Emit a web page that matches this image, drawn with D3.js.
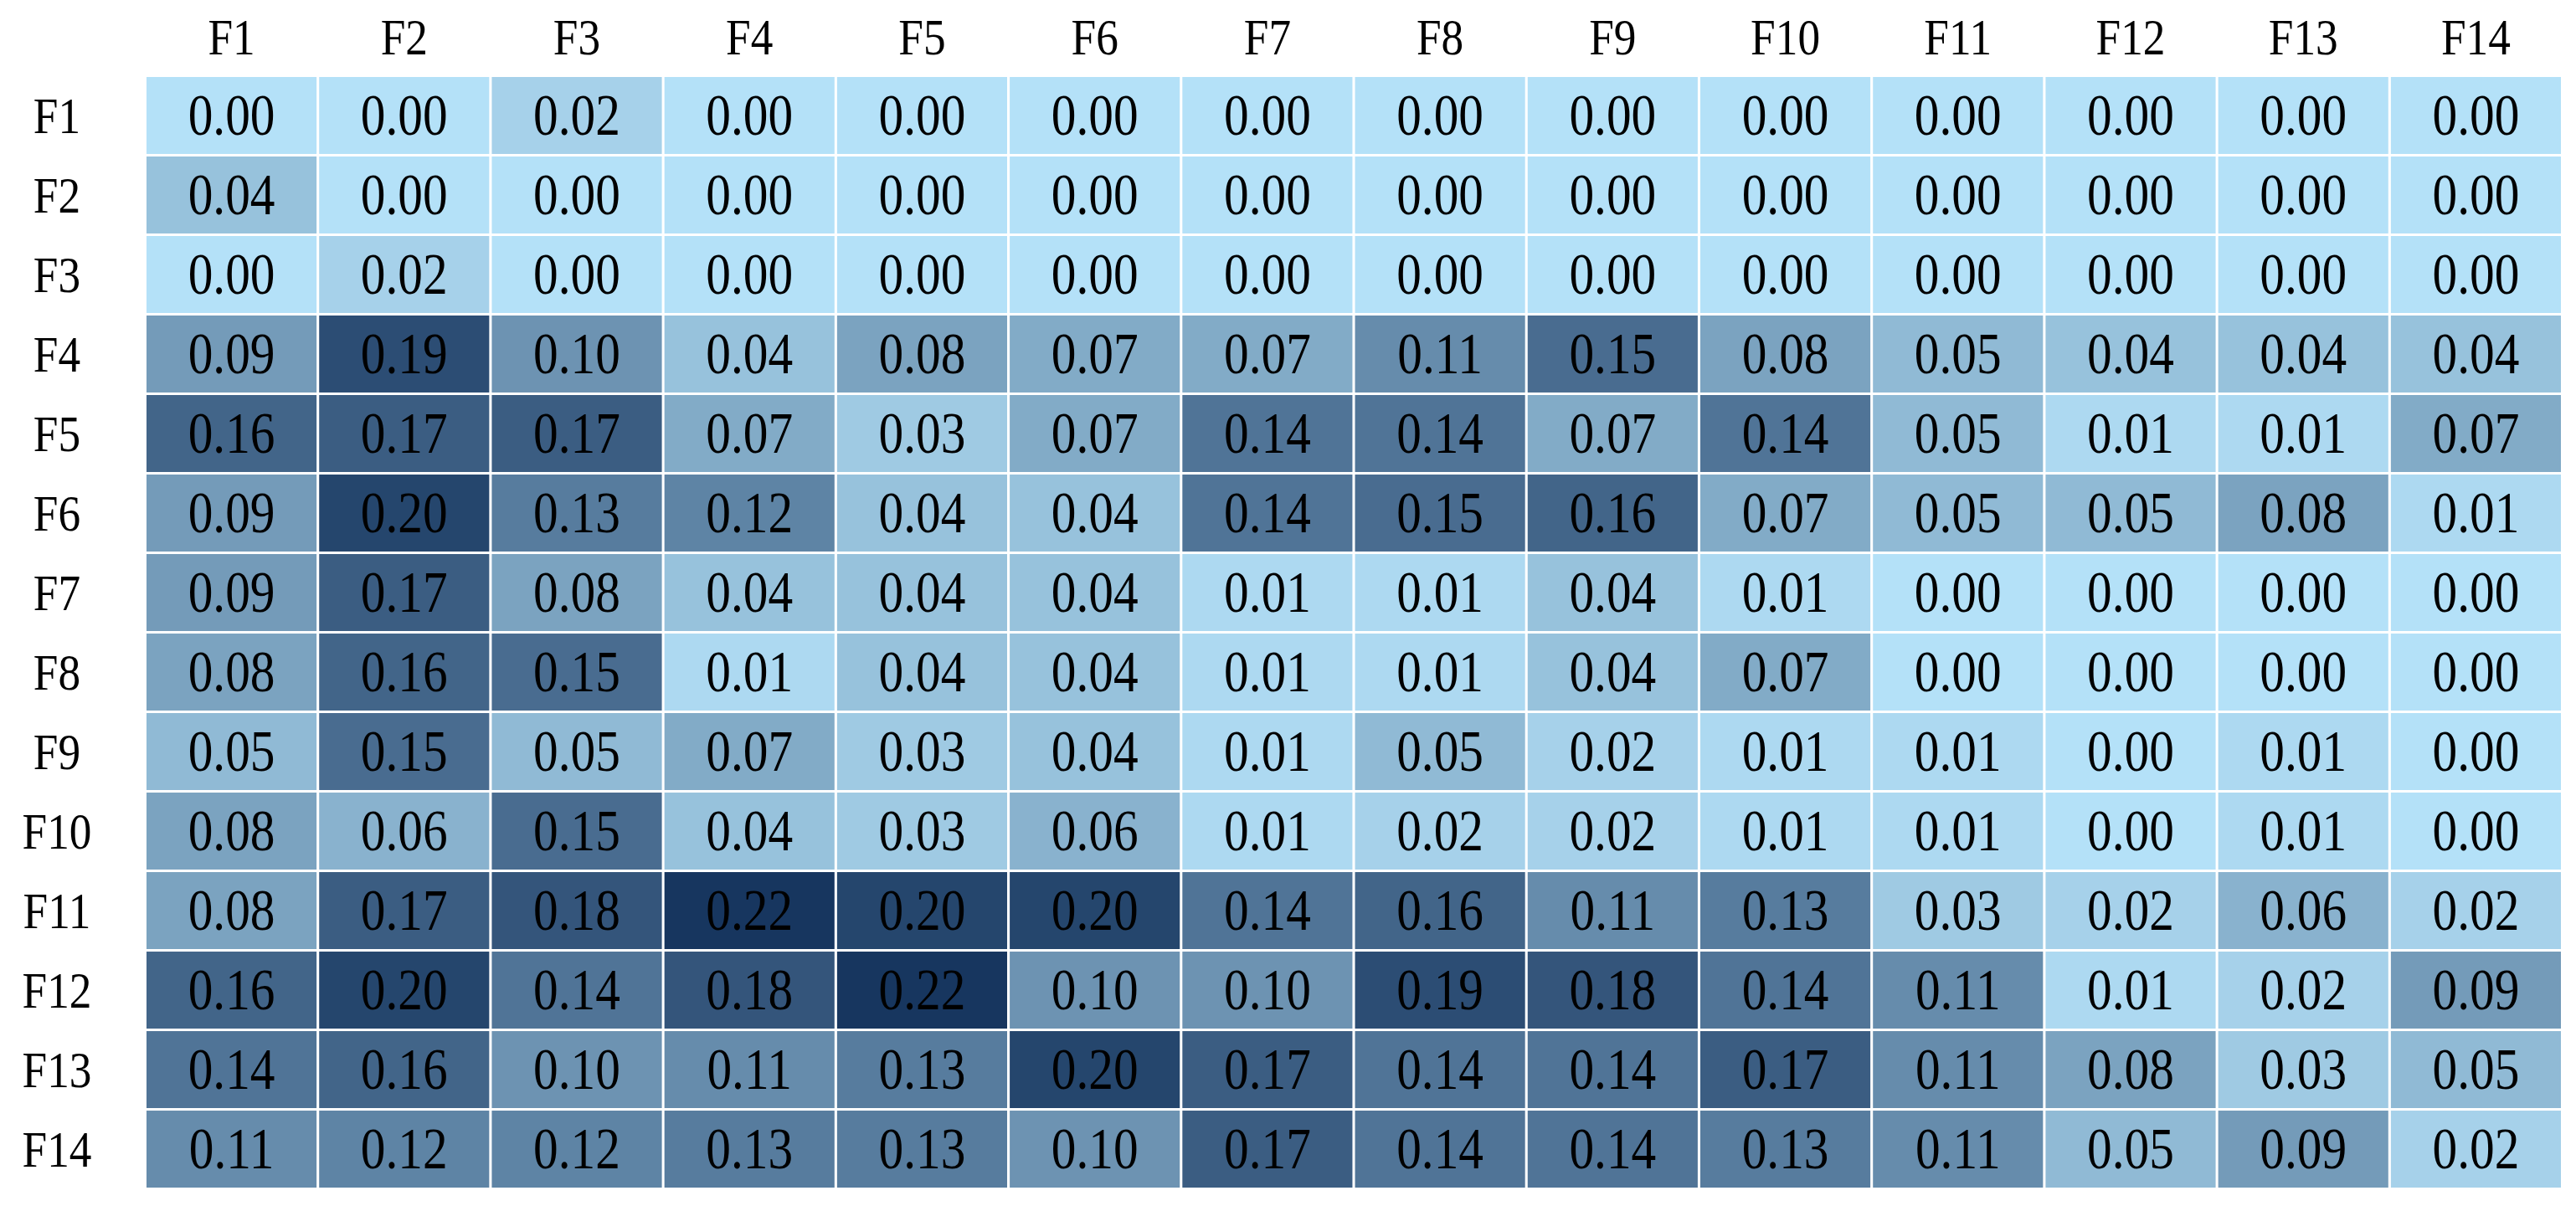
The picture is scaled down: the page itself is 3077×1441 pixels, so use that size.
<!DOCTYPE html>
<html>
<head>
<meta charset="utf-8">
<script src="https://cdn.jsdelivr.net/npm/d3@7"></script>
<style>
  body { margin: 0; background: #fff; }
  svg text { font-family: "Liberation Serif", "DejaVu Serif", serif; fill: #000; }
</style>
</head>
<body>
<svg id="mapa"></svg>
<script>
// rótulos das linhas e colunas
let rotulos = ["F1","F2","F3","F4","F5","F6","F7","F8","F9","F10","F11","F12","F13","F14"];

// valores de cada linha (F1..F14)
let linhaF1  = [0.00,0.00,0.02,0.00,0.00,0.00,0.00,0.00,0.00,0.00,0.00,0.00,0.00,0.00];
let linhaF2  = [0.04,0.00,0.00,0.00,0.00,0.00,0.00,0.00,0.00,0.00,0.00,0.00,0.00,0.00];
let linhaF3  = [0.00,0.02,0.00,0.00,0.00,0.00,0.00,0.00,0.00,0.00,0.00,0.00,0.00,0.00];
let linhaF4  = [0.09,0.19,0.10,0.04,0.08,0.07,0.07,0.11,0.15,0.08,0.05,0.04,0.04,0.04];
let linhaF5  = [0.16,0.17,0.17,0.07,0.03,0.07,0.14,0.14,0.07,0.14,0.05,0.01,0.01,0.07];
let linhaF6  = [0.09,0.20,0.13,0.12,0.04,0.04,0.14,0.15,0.16,0.07,0.05,0.05,0.08,0.01];
let linhaF7  = [0.09,0.17,0.08,0.04,0.04,0.04,0.01,0.01,0.04,0.01,0.00,0.00,0.00,0.00];
let linhaF8  = [0.08,0.16,0.15,0.01,0.04,0.04,0.01,0.01,0.04,0.07,0.00,0.00,0.00,0.00];
let linhaF9  = [0.05,0.15,0.05,0.07,0.03,0.04,0.01,0.05,0.02,0.01,0.01,0.00,0.01,0.00];
let linhaF10 = [0.08,0.06,0.15,0.04,0.03,0.06,0.01,0.02,0.02,0.01,0.01,0.00,0.01,0.00];
let linhaF11 = [0.08,0.17,0.18,0.22,0.20,0.20,0.14,0.16,0.11,0.13,0.03,0.02,0.06,0.02];
let linhaF12 = [0.16,0.20,0.14,0.18,0.22,0.10,0.10,0.19,0.18,0.14,0.11,0.01,0.02,0.09];
let linhaF13 = [0.14,0.16,0.10,0.11,0.13,0.20,0.17,0.14,0.14,0.17,0.11,0.08,0.03,0.05];
let linhaF14 = [0.11,0.12,0.12,0.13,0.13,0.10,0.17,0.14,0.14,0.13,0.11,0.05,0.09,0.02];

let linhas = [linhaF1,linhaF2,linhaF3,linhaF4,linhaF5,linhaF6,linhaF7,
              linhaF8,linhaF9,linhaF10,linhaF11,linhaF12,linhaF13,linhaF14];

function desenhaMapa(){
    let width = 3077, height = 1441;
    let svg = d3.select("#mapa")
        .attr("width", width)
        .attr("height", height)
        .attr("viewBox", "0 0 " + width + " " + height);

    // monta a lista de células a partir das linhas
    let celulas = [];
    linhas.forEach(function(valores, i){
        valores.forEach(function(v, j){
            celulas.push({linha: rotulos[i], coluna: rotulos[j], valor: v});
        });
    });

    let x = d3.scaleBand().domain(rotulos).range([175, 3059]).paddingInner(0.015);
    let y = d3.scaleBand().domain(rotulos).range([92, 1419]).paddingInner(0.032);

    // escala de cor: azul claro até azul marinho
    let calculaCor = d3.scaleLinear()
        .domain([0, 0.22])
        .range(["#b4e1f8", "#17365f"]);

    let grupo = svg.append("g");

    grupo.selectAll("rect")
        .data(celulas)
        .enter().append("rect")
        .attr("x", d => x(d.coluna))
        .attr("y", d => y(d.linha))
        .attr("width", x.bandwidth())
        .attr("height", y.bandwidth())
        .style("fill", d => calculaCor(d.valor));

    let esticar = 0.86;

    // valores dentro das células
    grupo.selectAll("text.valor")
        .data(celulas)
        .enter().append("text")
        .attr("class", "valor")
        .attr("transform", d => "translate(" + (x(d.coluna) + x.bandwidth()/2) + "," + (y(d.linha) + y.bandwidth()/2) + ") scale(" + esticar + ",1)")
        .attr("text-anchor", "middle")
        .attr("dy", "0.34em")
        .style("font-size", "69px")
        .text(d => d.valor.toFixed(2));

    // rótulos das colunas (topo)
    svg.append("g").selectAll("text")
        .data(rotulos)
        .enter().append("text")
        .attr("transform", d => "translate(" + (x(d) + x.bandwidth()/2) + ",65) scale(" + esticar + ",1)")
        .attr("text-anchor", "middle")
        .style("font-size", "62px")
        .text(d => d);

    // rótulos das linhas (esquerda)
    svg.append("g").selectAll("text")
        .data(rotulos)
        .enter().append("text")
        .attr("transform", d => "translate(68," + (y(d) + y.bandwidth()/2) + ") scale(" + esticar + ",1)")
        .attr("text-anchor", "middle")
        .attr("dy", "0.34em")
        .style("font-size", "62px")
        .text(d => d);
}

desenhaMapa();
</script>
</body>
</html>
